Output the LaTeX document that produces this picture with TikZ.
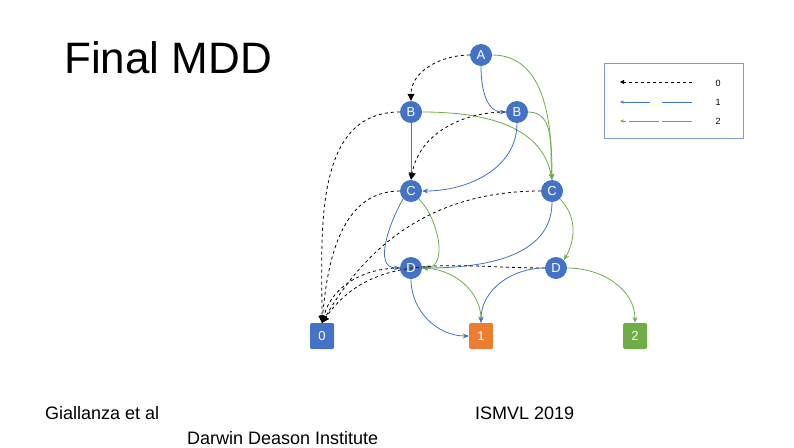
\documentclass[tikz,border=0pt]{standalone}
\usepackage{fontspec}
\setmainfont{Liberation Sans}
\usetikzlibrary{arrows.meta}
\definecolor{nblue}{HTML}{4472C4}
\definecolor{norange}{HTML}{ED7D31}
\definecolor{ngreen}{HTML}{70AD47}
\begin{document}
\begin{tikzpicture}[x=1pt,y=-1pt,
  var/.style={circle,fill=nblue,minimum size=22pt,inner sep=0pt,text=white,font=\fontsize{13}{13}\selectfont},
  term/.style={rounded corners=1.5pt,minimum width=24pt,minimum height=26pt,inner sep=0pt,text=white,font=\fontsize{13}{13}\selectfont},
  e0/.style={draw=black,dashed,thick,-{Triangle[length=7pt,width=7pt]}},
  e1/.style={draw=nblue,thick,-{Stealth[length=6pt,width=5pt]}},
  e2/.style={draw=ngreen,thick,-{Stealth[length=6pt,width=5pt]}},
  lab/.style={inner sep=0pt,font=\fontsize{18}{18}\selectfont}]
\useasboundingbox (0,0) rectangle (794,447);
\node[anchor=west,inner sep=0pt,font=\fontsize{44}{44}\selectfont] (title) at (64,58) {Final MDD};
\node[var] (A) at (481,55) {A};
\node[var] (B1) at (411,112) {B};
\node[var] (B2) at (517,112) {B};
\node[var] (C1) at (411,191) {C};
\node[var] (C2) at (552,191) {C};
\node[var] (D1) at (411,268) {D};
\node[var] (D2) at (556,268) {D};
\node[term,fill=nblue] (T0) at (322,336) {0};
\node[term,fill=norange] (T1) at (481,336) {1};
\node[term,fill=ngreen] (T2) at (635,336) {2};
% edges
\draw[e0] (A.west) to[out=180,in=90] (B1.north);
\draw[e1] (A.south) to[out=-90,in=180] (B2.west);
\draw[e2] (A.east) to[out=0,in=90] (C2.north);
\draw[e0] (B1.west) to[out=180,in=90] (T0.north);
\draw[e1] (B1.south) -- (C1.north);
\draw[e2] (B1.east) to[out=0,in=100] (C2.north);
\draw[e0] (B2.west) to[out=180,in=80] (C1.north);
\draw[e1] (B2.south) to[out=-90,in=0] (C1.east);
\draw[e2] (B2.east) to[out=0,in=95] (C2.north);
\draw[e0] (C1.west) to[out=180,in=85] (T0.north);
\draw[e1] (C1.south west) to[out=-120,in=180] (D1.west);
\draw[e2] (C1.south east) to[out=-45,in=0] (D1.east);
\draw[e0] (C2.west) to[out=180,in=60] (T0.north);
\draw[e1] (C2.south) to[out=-90,in=0] (D1.east);
\draw[e2] (C2.south east) to[out=-45,in=60] (D2.north east);
\draw[e0] (D1.west) to[out=180,in=75] (T0.north);
\draw[e1] (D1.south) to[out=-90,in=180] (T1.west);
\draw[e2] (D1.east) to[out=0,in=90] (T1.north);
\draw[e0] (D2.west) to[out=180,in=55] (T0.north);
\draw[e1] (D2.west) to[out=180,in=90] (T1.north);
\draw[e2] (D2.east) to[out=0,in=90] (T2.north);
% legend
\node[draw=nblue!70,line width=0.8pt,minimum width=139pt,minimum height=75pt,inner sep=0pt] (leg) at (673.5,100.5) {};
\coordinate (l0a) at (692,82); \coordinate (l0b) at (620,82);
\coordinate (l1a) at (692,102); \coordinate (l1b) at (620,102);
\coordinate (l2a) at (692,121); \coordinate (l2b) at (620,121);
\draw[draw=black,dashed,thick,-{Triangle[length=4pt,width=4pt]}] (l0a) -- (l0b);
\draw[draw=nblue,thick,dash pattern=on 30pt off 12pt,-{Stealth[length=4pt]}] (l1a) -- (l1b);
\draw[draw=ngreen,thick,dash pattern=on 30pt off 3pt,-{Stealth[length=4pt]}] (l2a) -- (l2b);
\node[font=\fontsize{9}{9}\selectfont] (L0) at (718,83) {0};
\node[font=\fontsize{9}{9}\selectfont] (L1) at (718,102) {1};
\node[font=\fontsize{9}{9}\selectfont] (L2) at (718,121) {2};
\node[lab,anchor=west] (g) at (45,413) {Giallanza et al};
\node[lab,anchor=west] (i) at (475,413) {ISMVL 2019};
\node[lab,anchor=west] (d) at (187,438) {Darwin Deason Institute};
\end{tikzpicture}
\end{document}
